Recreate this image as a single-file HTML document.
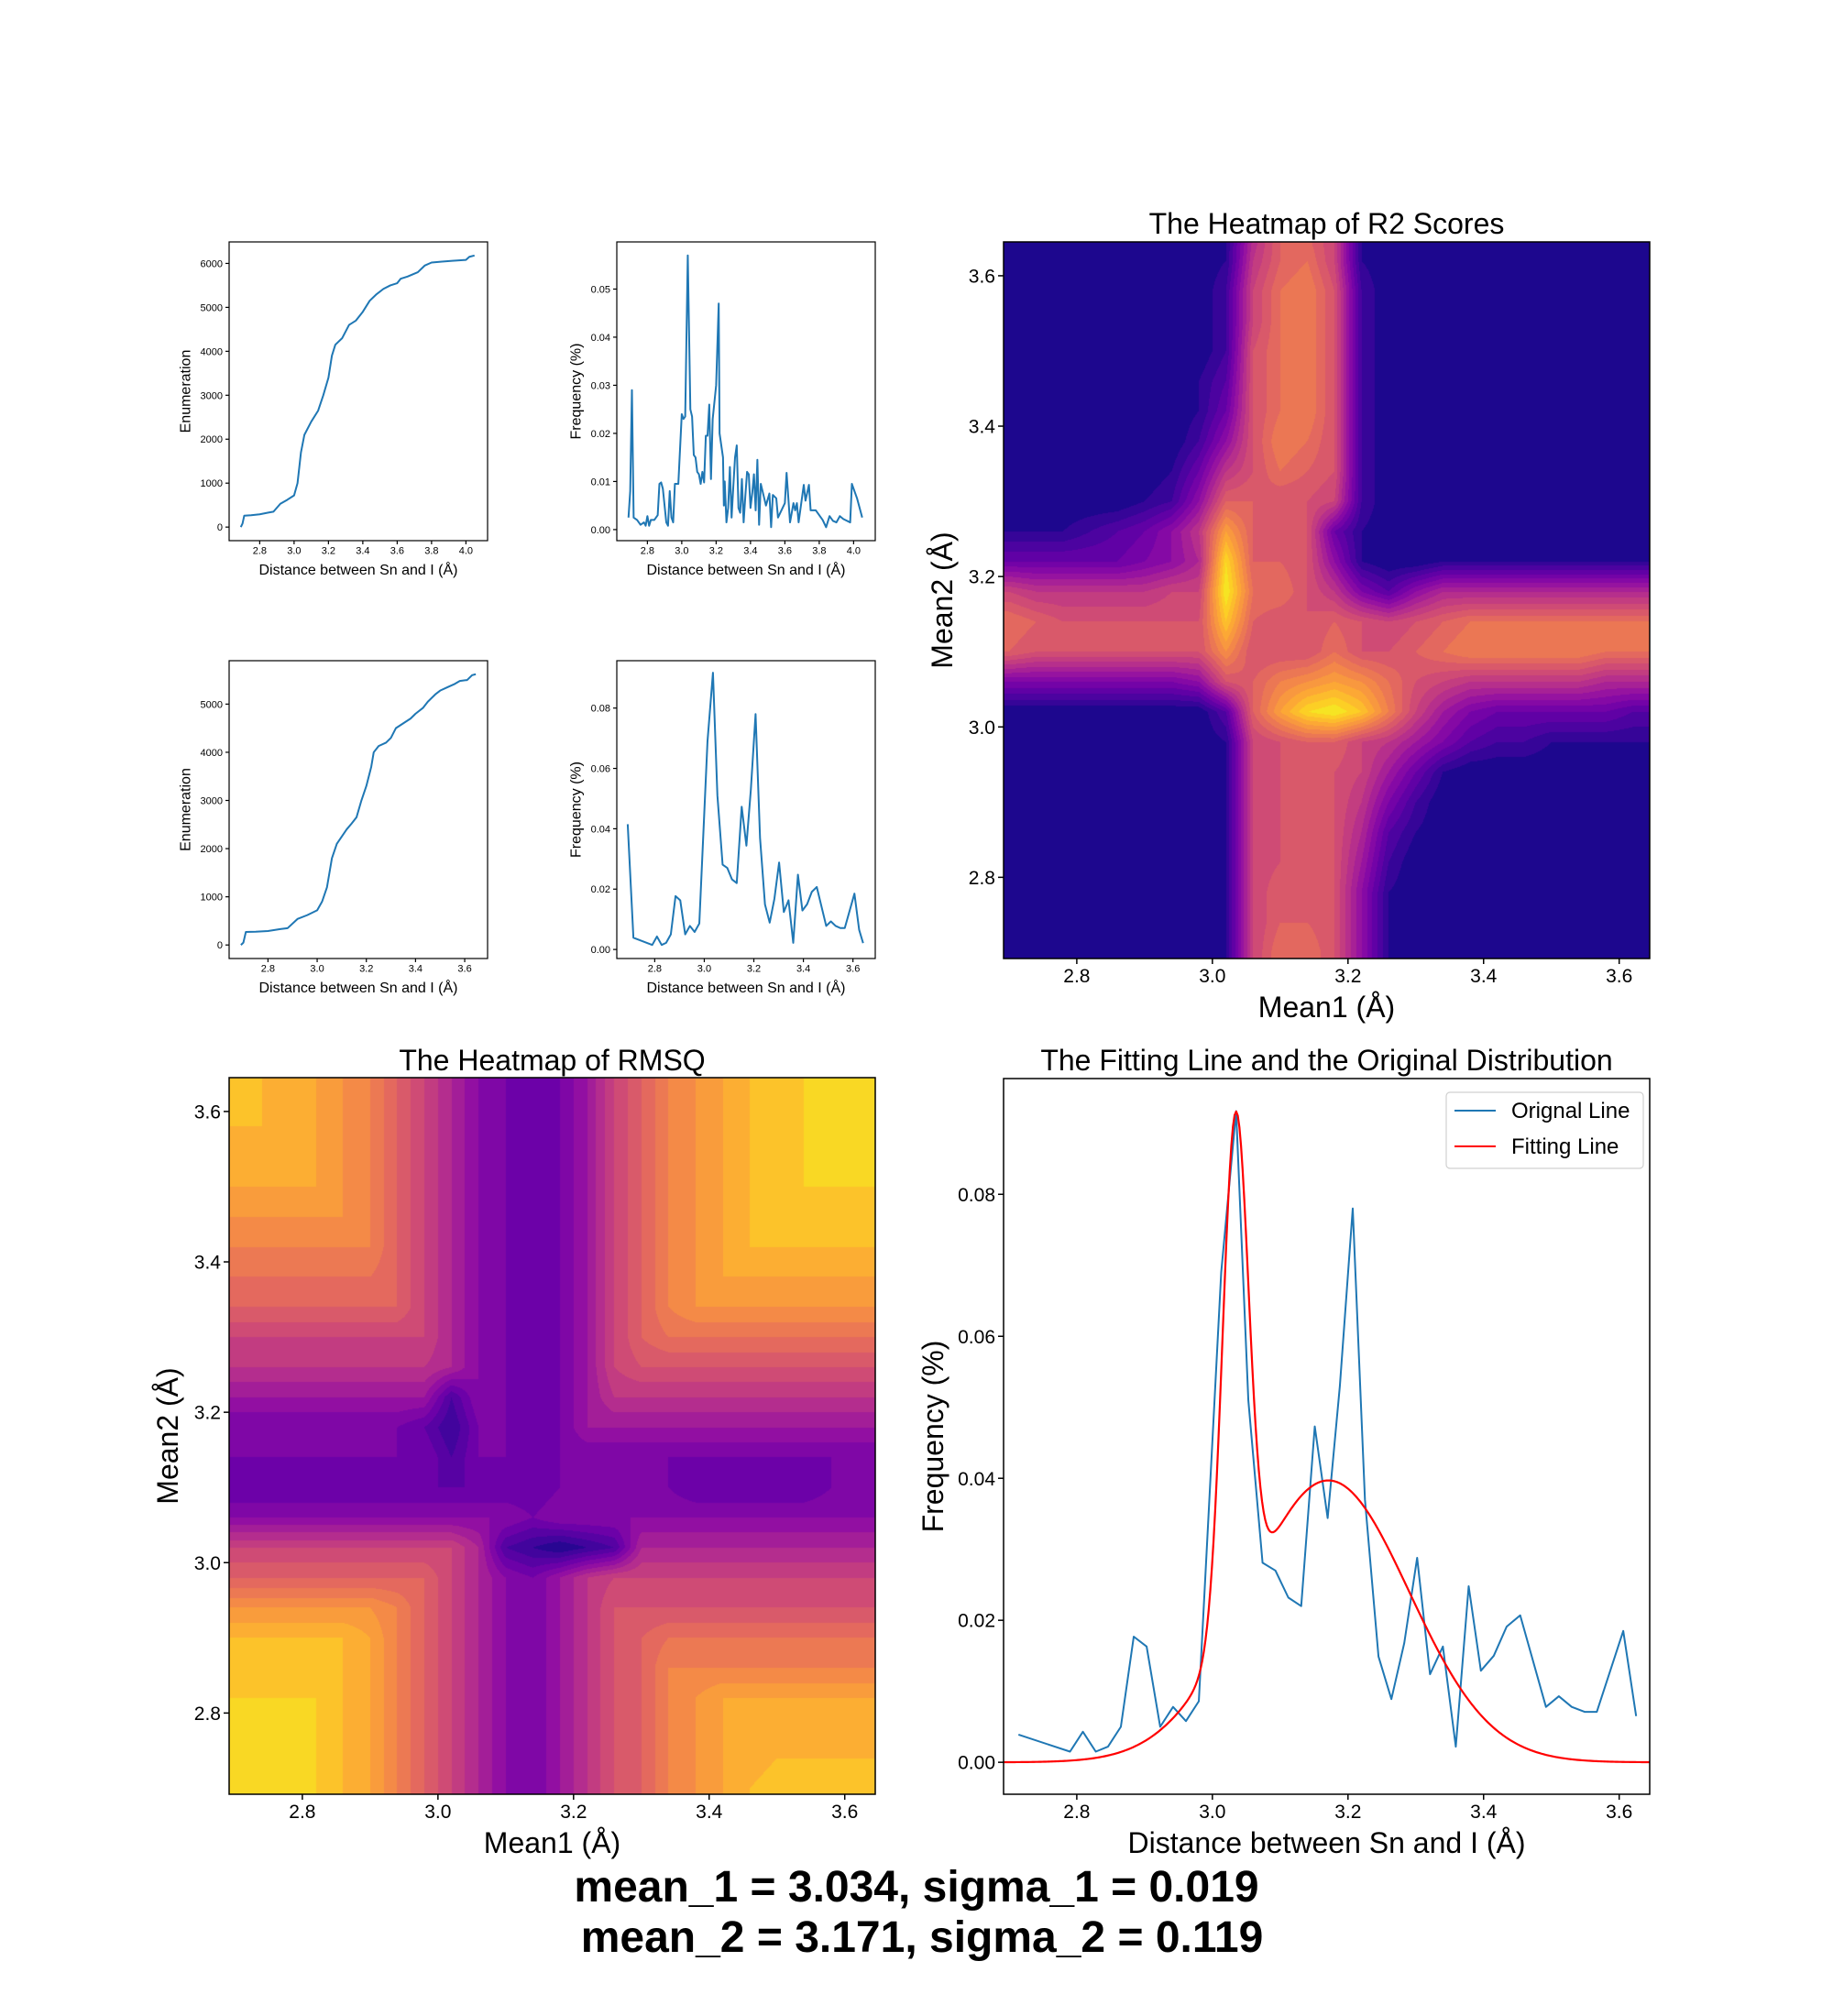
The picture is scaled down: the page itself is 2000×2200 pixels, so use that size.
<!DOCTYPE html>
<html><head><meta charset="utf-8">
<style>
body{margin:0;background:#fff;}
#root{position:relative;width:2000px;height:2200px;overflow:hidden;background:#fff;font-family:"Liberation Sans",sans-serif;}
canvas{position:absolute;}
svg{position:absolute;left:0;top:0;}
svg text{font-family:"Liberation Sans",sans-serif;fill:#000;}
</style></head>
<body>
<div id="root">
<canvas id="r2c" style="left:1095px;top:264px" width="705" height="782"></canvas>
<canvas id="rmc" style="left:250px;top:1176px" width="705" height="782"></canvas>
<svg id="s" width="2000" height="2200"></svg>
</div>
<script>
// ---------- data ----------
const cum1X=[2.69,2.70,2.71,2.75,2.80,2.85,2.88,2.92,2.96,3.00,3.02,3.04,3.06,3.10,3.14,3.17,3.20,3.22,3.24,3.28,3.32,3.36,3.40,3.44,3.48,3.52,3.56,3.60,3.62,3.66,3.72,3.76,3.80,3.86,3.92,4.00,4.02,4.05];
const cum1Y=[0,80,260,270,290,330,350,530,620,720,1000,1700,2100,2400,2650,3000,3400,3900,4150,4300,4600,4700,4900,5150,5300,5420,5500,5550,5650,5700,5800,5950,6020,6040,6060,6080,6150,6180];
const freq1X=[2.69,2.70,2.71,2.72,2.74,2.76,2.78,2.79,2.80,2.81,2.82,2.84,2.86,2.87,2.88,2.89,2.91,2.92,2.93,2.94,2.95,2.96,2.98,3.00,3.01,3.02,3.035,3.05,3.06,3.07,3.08,3.09,3.10,3.11,3.12,3.13,3.14,3.15,3.16,3.17,3.18,3.20,3.215,3.22,3.24,3.245,3.25,3.26,3.27,3.28,3.29,3.30,3.31,3.32,3.33,3.34,3.35,3.36,3.37,3.38,3.39,3.40,3.41,3.42,3.43,3.44,3.45,3.46,3.48,3.49,3.51,3.52,3.53,3.55,3.56,3.58,3.60,3.61,3.63,3.65,3.66,3.67,3.68,3.71,3.72,3.74,3.75,3.78,3.82,3.84,3.86,3.88,3.90,3.92,3.94,3.98,3.99,4.02,4.05];
const freq1Y=[0.0025,0.008,0.029,0.0025,0.002,0.001,0.0015,0.0008,0.0028,0.0008,0.002,0.002,0.003,0.0095,0.0098,0.0085,0.0015,0.0008,0.008,0.0025,0.0015,0.0095,0.0095,0.024,0.023,0.0235,0.057,0.025,0.0235,0.0155,0.015,0.012,0.0115,0.0095,0.012,0.0098,0.0195,0.0195,0.026,0.0105,0.023,0.030,0.047,0.020,0.015,0.005,0.010,0.0015,0.0045,0.013,0.0025,0.009,0.015,0.0175,0.0045,0.0035,0.0105,0.0015,0.007,0.012,0.0115,0.0045,0.0075,0.0115,0.004,0.0145,0.001,0.0095,0.0065,0.005,0.0075,0.0005,0.0072,0.0065,0.0025,0.004,0.0055,0.0118,0.0015,0.0055,0.004,0.0055,0.0015,0.0093,0.006,0.0093,0.004,0.004,0.002,0.0005,0.0028,0.0018,0.0015,0.0028,0.0022,0.0015,0.0095,0.0065,0.0025];
const cum2X=[2.69,2.70,2.71,2.75,2.80,2.85,2.88,2.92,2.96,3.00,3.02,3.04,3.06,3.08,3.10,3.12,3.14,3.16,3.18,3.20,3.22,3.23,3.25,3.28,3.30,3.32,3.35,3.38,3.40,3.43,3.45,3.48,3.50,3.53,3.56,3.58,3.61,3.63,3.645];
const cum2Y=[0,50,270,275,290,330,350,540,620,720,900,1200,1800,2100,2250,2400,2520,2650,3000,3300,3700,4000,4130,4200,4300,4500,4600,4700,4800,4920,5050,5200,5280,5350,5420,5480,5500,5600,5620];
const freq2X=[2.691,2.714,2.790,2.809,2.828,2.846,2.865,2.884,2.903,2.923,2.942,2.961,2.980,3.013,3.035,3.053,3.074,3.093,3.112,3.131,3.151,3.170,3.188,3.207,3.225,3.245,3.264,3.283,3.302,3.321,3.340,3.359,3.378,3.396,3.415,3.434,3.454,3.492,3.511,3.530,3.549,3.567,3.606,3.625,3.641];
const freq2Y=[0.0415,0.0039,0.0015,0.0043,0.0015,0.0022,0.0050,0.0177,0.0163,0.0050,0.0078,0.0058,0.0086,0.069,0.0917,0.051,0.0281,0.0270,0.0232,0.0220,0.0473,0.0344,0.053,0.078,0.037,0.0149,0.0089,0.0168,0.0288,0.0124,0.0163,0.0022,0.0248,0.0129,0.0150,0.0191,0.0207,0.0078,0.0093,0.0078,0.0071,0.0071,0.0185,0.0065,0.0021];
const fitMeans=[3.034,3.171];
const fitSigmas=[0.019,0.119];
const fitAmps=[0.0711,0.0397];
const heatGridX0=2.70;
const heatGridStep=0.04;
const r2Grid=[
[0,0,0,0,0,0,0,0,1,8,12,12,10,1,0,0,0,0,0,0,0,0,0,0,0],
[0,0,0,0,0,0,0,0,1,9,12,13,10,1,0,0,0,0,0,0,0,0,0,0,0],
[0,0,0,0,0,0,0,0,2,10,13,14,11,2,0,0,0,0,0,0,0,0,0,0,0],
[0,0,0,0,0,0,0,0,2,10,13,14,11,2,0,0,0,0,0,0,0,0,0,0,0],
[0,0,0,0,0,0,0,0,2,11,13,14,11,2,0,0,0,0,0,0,0,0,0,0,0],
[0,0,0,0,0,0,0,1,3,11,13,14,11,2,0,0,0,0,0,0,0,0,0,0,0],
[0,0,0,0,0,0,0,1,4,11,13,14,11,2,0,0,0,0,0,0,0,0,0,0,0],
[0,0,0,0,0,0,0,2,6,11,14,13,11,2,0,0,0,0,0,0,0,0,0,0,0],
[0,0,0,0,0,0,1,4,9,11,13,12,11,2,0,0,0,0,0,0,0,0,0,0,0],
[0,0,0,0,0,1,2,6,12,12,11,11,10,2,0,0,0,0,0,0,0,0,0,0,0],
[1,1,1,2,3,4,6,9,16,12,11,11,4,1,0,0,0,0,0,0,0,0,0,0,0],
[4,4,4,4,4,5,6,8,19,12,12,11,6,1,0,0,1,1,1,1,1,1,1,1,1],
[10,9,9,9,9,9,10,10,20,13,13,11,9,5,3,6,8,8,8,8,8,8,8,8,8],
[13,12,11,11,11,11,11,11,18,12,11,11,12,11,10,11,12,13,13,13,13,13,13,13,13],
[12,11,11,11,11,11,11,11,15,11,11,11,13,11,11,12,13,14,14,14,14,14,13,13,13],
[5,5,5,5,5,5,5,6,11,12,14,15,16,15,13,11,10,9,9,9,9,9,8,8,8],
[0,0,0,0,0,0,0,0,3,12,16,19,20,18,14,10,7,5,4,4,4,4,4,3,3],
[0,0,0,0,0,0,0,0,1,10,11,12,12,10,9,7,5,3,2,2,1,1,1,1,1],
[0,0,0,0,0,0,0,0,1,10,11,11,11,10,7,4,1,0,0,0,0,0,0,0,0],
[0,0,0,0,0,0,0,0,1,10,11,11,11,9,5,2,0,0,0,0,0,0,0,0,0],
[0,0,0,0,0,0,0,0,1,10,11,11,11,8,3,1,0,0,0,0,0,0,0,0,0],
[0,0,0,0,0,0,0,0,1,10,11,11,11,7,2,0,0,0,0,0,0,0,0,0,0],
[0,0,0,0,0,0,0,0,1,10,12,11,11,6,1,0,0,0,0,0,0,0,0,0,0],
[0,0,0,0,0,0,0,0,1,10,12,12,11,6,1,0,0,0,0,0,0,0,0,0,0],
[0,0,0,0,0,0,0,0,1,10,13,13,11,6,1,0,0,0,0,0,0,0,0,0,0]];
const rmsqGrid=[
[17,17,16,16,15,14,12,10,8,6,5,4,5,7,10,12,14,15,16,17,17,18,18,18,18],
[17,17,16,16,15,14,12,10,8,6,5,4,5,7,10,12,14,15,16,17,17,18,18,18,18],
[17,17,16,16,15,14,12,10,8,6,5,4,5,7,10,12,14,15,16,17,17,18,18,18,18],
[16,16,16,16,15,14,12,10,8,6,5,4,5,7,10,12,14,15,16,17,17,18,18,18,18],
[16,16,16,16,15,14,12,10,8,6,5,4,5,7,10,12,14,15,16,17,17,18,18,18,18],
[15,15,15,15,15,14,12,10,8,6,5,4,5,7,10,12,14,15,16,17,17,17,17,17,17],
[14,14,14,14,14,14,12,10,8,6,5,4,5,7,10,12,14,15,16,17,17,17,17,17,17],
[13,13,13,13,13,13,12,10,8,6,5,4,5,7,10,12,14,15,16,16,16,16,16,16,16],
[12,12,12,12,12,12,12,10,8,6,5,4,5,7,10,12,14,15,15,15,15,15,15,15,15],
[10,10,10,10,10,10,10,10,8,6,5,4,5,7,10,12,13,13,13,13,13,13,13,13,13],
[9,9,9,9,9,9,9,9,8,6,5,4,5,7,10,11,11,11,11,11,11,11,11,11,11],
[7,7,7,7,7,7,7,7,3,6,5,4,5,7,9,9,9,9,9,9,9,9,9,9,9],
[5,5,5,5,5,5,5,4,2,5,5,4,5,7,7,7,7,7,7,7,7,7,7,7,7],
[5,5,5,5,5,5,5,5,3,5,5,4,5,5,5,5,5,5,5,5,5,5,5,5,5],
[4,4,4,4,4,4,4,4,4,4,4,4,5,5,5,5,5,4,4,4,4,4,5,5,5],
[6,6,6,6,6,6,6,6,6,6,6,5,6,6,6,6,6,6,6,6,6,6,6,6,6],
[10,10,10,10,10,10,10,10,10,8,3,2,1,2,3,8,8,8,8,8,8,8,8,8,8],
[12,12,12,12,12,12,12,12,10,8,6,5,7,9,10,10,10,10,10,10,10,10,10,10,10],
[15,15,15,15,15,15,14,12,10,8,6,5,7,9,11,11,11,11,11,11,11,11,11,11,11],
[17,17,17,17,17,16,14,12,10,8,6,5,7,9,11,12,13,13,13,13,13,13,13,13,13],
[17,17,17,17,17,16,14,12,10,8,6,5,7,9,11,12,14,14,14,14,14,14,14,14,14],
[18,18,18,18,17,16,14,12,10,8,6,5,7,9,11,12,14,15,16,16,16,16,16,16,16],
[18,18,18,18,17,16,14,12,10,8,6,5,7,9,11,12,14,15,16,16,16,16,16,16,16],
[18,18,18,18,17,16,14,12,10,8,6,5,7,9,11,12,14,15,16,16,17,17,17,17,17],
[19,19,18,18,17,16,14,12,10,8,6,5,7,9,11,12,14,15,16,17,18,18,18,18,18]];
const smallXTicksA=["2.8","3.0","3.2","3.4","3.6","3.8","4.0"];
const smallXTicksB=["2.8","3.0","3.2","3.4","3.6"];
const cum1YTicks=["0","1000","2000","3000","4000","5000","6000"];
const freq1YTicks=["0.00","0.01","0.02","0.03","0.04","0.05"];
const cum2YTicks=["0","1000","2000","3000","4000","5000"];
const freq2YTicks=["0.00","0.02","0.04","0.06","0.08"];
const heatTicks=["2.8","3.0","3.2","3.4","3.6"];
const fitXTicks=["2.8","3.0","3.2","3.4","3.6"];
const fitYTicks=["0.00","0.02","0.04","0.06","0.08"];

// ---------- helpers ----------
const NS="http://www.w3.org/2000/svg";
const svg=document.getElementById('s');
function mk(tag,attrs,parent){const e=document.createElementNS(NS,tag);for(const k in attrs)e.setAttribute(k,attrs[k]);(parent||svg).appendChild(e);return e;}
function scale(d0,d1,p0,p1){return v=>p0+(v-d0)/(d1-d0)*(p1-p0);}
const plasmaStops=["#0d0887","#41049d","#6a00a8","#8f0da4","#b12a90","#cc4778","#e16462","#f2844b","#fca636","#fcce25","#f0f921"].map(h=>[parseInt(h.substr(1,2),16),parseInt(h.substr(3,2),16),parseInt(h.substr(5,2),16)]);
function plasma(t){t=Math.max(0,Math.min(1,t));const f=t*10;const i=Math.min(9,Math.floor(f));const r=f-i;const a=plasmaStops[i],b=plasmaStops[i+1];return [a[0]+(b[0]-a[0])*r,a[1]+(b[1]-a[1])*r,a[2]+(b[2]-a[2])*r];}

let clipN=0;
function axes(o){
  const g=mk('g',{});
  
  
  const b=o.box;
  const sx=scale(o.xr[0],o.xr[1],b.l,b.r), sy=scale(o.yr[0],o.yr[1],b.b,b.t);
  const cid='clip'+(clipN++);
  const cp=mk('clipPath',{id:cid},g);
  mk('rect',{x:b.l,y:b.t,width:b.r-b.l,height:b.b-b.t},cp);
  const plot=mk('g',{'clip-path':'url(#'+cid+')'},g);
  
  
  o.xt.forEach(t=>{const X=sx(parseFloat(t));
    const tk=mk('line',{x1:X,x2:X,y1:b.b,y2:b.b+o.tl,stroke:'#000','stroke-width':o.sw},g);
    
    
    const tx=mk('text',{x:X,y:b.b+o.tl+o.tfs*0.95,'font-size':o.tfs,'text-anchor':'middle'},g);tx.textContent=t;
    
    
  });
  o.yt.forEach(t=>{const Y=sy(parseFloat(t));
    const tk=mk('line',{x1:b.l-o.tl,x2:b.l,y1:Y,y2:Y,stroke:'#000','stroke-width':o.sw},g);
    
    
    const tx=mk('text',{x:b.l-o.tl-3,y:Y+o.tfs*0.36,'font-size':o.tfs,'text-anchor':'end'},g);tx.textContent=t;
    
    
  });
  const fr=mk('rect',{x:b.l,y:b.t,width:b.r-b.l,height:b.b-b.t,fill:'none',stroke:'#000','stroke-width':o.sw},g);
  
  
  const xl=mk('text',{x:(b.l+b.r)/2,y:o.xlY,'font-size':o.lfs,'text-anchor':'middle'},g);xl.textContent=o.xlab;
  
  
  const cy=(b.t+b.b)/2;
  const yl=mk('text',{x:o.ylX,y:cy,'font-size':o.lfs,'text-anchor':'middle','dominant-baseline':'central',transform:'rotate(-90 '+o.ylX+' '+cy+')'},g);yl.textContent=o.ylab;
  
  
  if(o.title){const ti=mk('text',{x:(b.l+b.r)/2,y:o.titleY,'font-size':o.lfs,'text-anchor':'middle'},g);ti.textContent=o.title;
    
    }
  return {sx,sy,plot,g};
}
function line(ax,xs,ys,color,w,name){
  const pts=xs.map((x,i)=>ax.sx(x).toFixed(2)+','+ax.sy(ys[i]).toFixed(2)).join(' ');
  const p=mk('polyline',{points:pts,fill:'none',stroke:color,'stroke-width':w,'stroke-linejoin':'round'},ax.plot);
  
  
  return p;
}
function heat(canvasId,grid,xr,yr,colorOf){
  const c=document.getElementById(canvasId);const ctx=c.getContext('2d');
  const w=c.width,h=c.height;const img=ctx.createImageData(w,h);const n=grid.length-1;
  for(let py=0;py<h;py++){
    const y=yr[1]-(py+0.5)/h*(yr[1]-yr[0]);
    let fj=((heatGridX0+n*heatGridStep)-y)/heatGridStep;
    fj=Math.max(0,Math.min(n-0.0001,fj));const j=Math.floor(fj),rj=fj-j;
    for(let px=0;px<w;px++){
      const x=xr[0]+(px+0.5)/w*(xr[1]-xr[0]);
      let fi=(x-heatGridX0)/heatGridStep;fi=Math.max(0,Math.min(n-0.0001,fi));
      const i=Math.floor(fi),ri=fi-i;
      const v=(grid[j][i]*(1-ri)+grid[j][i+1]*ri)*(1-rj)+(grid[j+1][i]*(1-ri)+grid[j+1][i+1]*ri)*rj;
      const col=colorOf(v);const k=(py*w+px)*4;
      img.data[k]=col[0];img.data[k+1]=col[1];img.data[k+2]=col[2];img.data[k+3]=255;
    }
  }
  ctx.putImageData(img,0,0);
}

// ---------- small plots ----------
const smallCommon={tl:4,sw:1.2,tfs:11,lfs:16};
const ax1=axes(Object.assign({name:'cumulative-plot-1',box:{l:250,t:264,r:532,b:590},xr:[2.622,4.126],yr:[-309,6489],xt:smallXTicksA,yt:cum1YTicks,xlab:'Distance between Sn and I (Å)',ylab:'Enumeration',xlY:627,ylX:203},smallCommon));
line(ax1,cum1X,cum1Y,'#1f77b4',2,'cumulative-line-1');
const ax2=axes(Object.assign({name:'frequency-plot-1',box:{l:673,t:264,r:955,b:590},xr:[2.622,4.126],yr:[-0.0023,0.0598],xt:smallXTicksA,yt:freq1YTicks,xlab:'Distance between Sn and I (Å)',ylab:'Frequency (%)',xlY:627,ylX:629},smallCommon));
line(ax2,freq1X,freq1Y,'#1f77b4',2,'frequency-line-1');
const ax3=axes(Object.assign({name:'cumulative-plot-2',box:{l:250,t:721,r:532,b:1046},xr:[2.642,3.693],yr:[-281,5901],xt:smallXTicksB,yt:cum2YTicks,xlab:'Distance between Sn and I (Å)',ylab:'Enumeration',xlY:1083,ylX:203},smallCommon));
line(ax3,cum2X,cum2Y,'#1f77b4',2,'cumulative-line-2');
const ax4=axes(Object.assign({name:'frequency-plot-2',box:{l:673,t:721,r:955,b:1046},xr:[2.647,3.69],yr:[-0.003,0.0957],xt:smallXTicksB,yt:freq2YTicks,xlab:'Distance between Sn and I (Å)',ylab:'Frequency (%)',xlY:1083,ylX:629},smallCommon));
line(ax4,freq2X,freq2Y,'#1f77b4',2,'frequency-line-2');

// ---------- heatmaps ----------
const HR=[2.692,3.645];
heat('r2c',r2Grid,HR,HR,v=>plasma(0.03+Math.floor(v)/20*0.97));
heat('rmc',rmsqGrid,HR,HR,v=>plasma(Math.floor(v)/19.5));
const bigCommon={tl:6,sw:1.5,tfs:21,lfs:32};
axes(Object.assign({name:'r2-heatmap',box:{l:1095,t:264,r:1800,b:1046},xr:HR,yr:HR,xt:heatTicks,yt:heatTicks,xlab:'Mean1 (Å)',ylab:'Mean2 (Å)',xlY:1110,ylX:1028,title:'The Heatmap of R2 Scores',titleY:255},bigCommon));
axes(Object.assign({name:'rmsq-heatmap',box:{l:250,t:1176,r:955,b:1958},xr:HR,yr:HR,xt:heatTicks,yt:heatTicks,xlab:'Mean1 (Å)',ylab:'Mean2 (Å)',xlY:2022,ylX:183,title:'The Heatmap of RMSQ',titleY:1168},bigCommon));

// ---------- fit plot ----------
const axF=axes(Object.assign({name:'fit-plot',box:{l:1095,t:1177,r:1800,b:1958},xr:[2.692,3.645],yr:[-0.0045,0.0963],xt:fitXTicks,yt:fitYTicks,xlab:'Distance between Sn and I (Å)',ylab:'Frequency (%)',xlY:2022,ylX:1018,title:'The Fitting Line and the Original Distribution',titleY:1168},bigCommon));
line(axF,freq2X.slice(1,-1),freq2Y.slice(1,-1),'#1f77b4',2,'original-line');
const fx=[],fy=[];
for(let k=0;k<=400;k++){const x=2.692+(3.645-2.692)*k/400;let y=0;for(let m=0;m<fitMeans.length;m++){y+=fitAmps[m]*Math.exp(-Math.pow(x-fitMeans[m],2)/(2*fitSigmas[m]*fitSigmas[m]));}fx.push(x);fy.push(y);}
line(axF,fx,fy,'#ff0000',2.2,'fitting-line');
// legend
const lg=mk('g',{});


mk('rect',{x:1578,y:1192,width:215,height:83,rx:4,fill:'#fff',stroke:'#d0d0d0','stroke-width':1.2},lg);
const le1=mk('line',{x1:1587,x2:1632,y1:1212,y2:1212,stroke:'#1f77b4','stroke-width':2},lg);


const lt1=mk('text',{x:1649,y:1220,'font-size':24},lg);lt1.textContent='Orignal Line';


const le2=mk('line',{x1:1587,x2:1632,y1:1251,y2:1251,stroke:'#ff0000','stroke-width':2},lg);


const lt2=mk('text',{x:1649,y:1259,'font-size':24},lg);lt2.textContent='Fitting Line';



// ---------- summary text ----------
const s1=mk('text',{x:1000,y:2075,'font-size':48,'font-weight':'bold','text-anchor':'middle'});
s1.textContent='mean_1 = 3.034, sigma_1 = 0.019';


const s2=mk('text',{x:1006,y:2130,'font-size':48,'font-weight':'bold','text-anchor':'middle'});
s2.textContent='mean_2 = 3.171, sigma_2 = 0.119';


</script>
</body></html>
